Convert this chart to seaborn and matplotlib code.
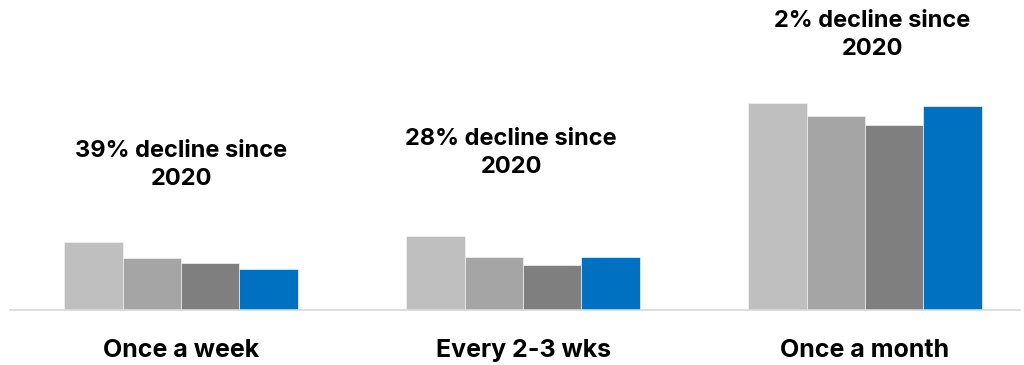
import matplotlib
matplotlib.use("Agg")
import matplotlib.pyplot as plt
import seaborn as sns
import pandas as pd

categories = ["Once a week", "Every 2-3 wks", "Once a month"]
series = ["2020", "2021", "2022", "2023"]
values_2020 = [68, 74, 207]
values_2021 = [52, 53, 194]
values_2022 = [47, 45, 185]
values_2023 = [41, 53, 204]
annotations = ["39% decline since", "28% decline since", "2% decline since"]
annotation_year = "2020"
colors = ["#BFBFBF", "#A5A5A5", "#7F7F7F", "#0070C0"]

rows = []
for s, vals in zip(series, [values_2020, values_2021, values_2022, values_2023]):
    for c, v in zip(categories, vals):
        rows.append({"category": c, "series": s, "value": v})
df = pd.DataFrame(rows)

sns.set_theme(style="white")
plt.rcParams['font.family'] = ['Inter', 'DejaVu Sans']

fig = plt.figure(figsize=(10.24, 3.65), dpi=100)
ax = fig.add_axes([10 / 1024, 55 / 365, 1010 / 1024, 310 / 365])
sns.barplot(data=df, x="category", y="value", hue="series", palette=colors,
            width=0.684, gap=0, ax=ax, legend=False, edgecolor="#F2F2F2", linewidth=0.5,
            order=categories, hue_order=series, saturation=1)

ax.set_xlim((10 - 181) / 342, (1020 - 181) / 342)
ax.set_ylim(0, 310)
ax.set_xlabel("")
ax.set_ylabel("")
ax.set_yticks([])
for sp in ["top", "right", "left"]:
    ax.spines[sp].set_visible(False)
ax.spines["bottom"].set_color("#D9D9D9")
ax.spines["bottom"].set_linewidth(1.2)
ax.tick_params(axis="x", length=0, pad=47 * 0.72, labelsize=18)
for lbl in ax.get_xticklabels():
    lbl.set_fontweight("bold")
    lbl.set_color("#000000")
    lbl.set_verticalalignment("baseline")

ann_x = [(181.5 - 181) / 342, (511 - 181) / 342, (872.5 - 181) / 342]
ann_y1 = [310 - 157, 310 - 145.3, 310 - 27.3]
ann_y2 = [310 - 185, 310 - 173, 310 - 55]
for x, y1, y2, t in zip(ann_x, ann_y1, ann_y2, annotations):
    ax.text(x, y1, t, ha="center", va="baseline", fontsize=17, fontweight="bold", color="#000000")
    ax.text(x, y2, annotation_year, ha="center", va="baseline", fontsize=17, fontweight="bold", color="#000000")

fig.savefig("out.png", dpi=100)
